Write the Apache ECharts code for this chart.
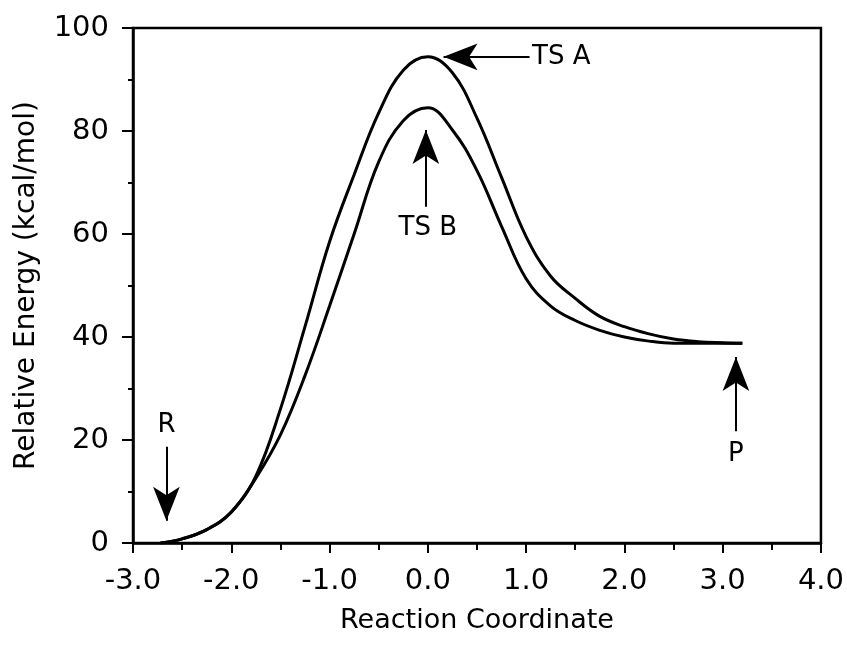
<!DOCTYPE html>
<html>
<head>
<meta charset="utf-8">
<script src="https://cdn.jsdelivr.net/npm/echarts@6/dist/echarts.min.js"></script>
<style>
html,body{margin:0;padding:0;background:#fff;}
#chart{width:847px;height:646px;}
</style>
</head>
<body>
<div id="chart"></div>
<script>
// Reaction coordinate samples
const coordA = [-2.72, -2.5, -2.25, -2.0, -1.75, -1.5, -1.25, -1.0, -0.75, -0.5, -0.25, 0.0, 0.25, 0.5, 0.75, 1.0, 1.25, 1.5, 1.75, 2.0, 2.25, 2.5, 2.75, 3.0, 3.2];
const energyA = [0, 0.8, 2.6, 6.0, 13.0, 26, 42, 58.5, 71.5, 83.5, 91.8, 94.4, 91.3, 82.5, 71, 59.5, 51.8, 47.5, 44, 42, 40.6, 39.6, 39.1, 38.9, 38.8];
const coordB = [-2.72, -2.5, -2.25, -2.0, -1.75, -1.5, -1.25, -1.0, -0.75, -0.5, -0.25, 0.0, 0.25, 0.5, 0.75, 1.0, 1.25, 1.5, 1.75, 2.0, 2.25, 2.5, 2.75, 3.0, 3.2];
const energyB = [0, 0.8, 2.6, 6.0, 12.6, 21, 32.5, 46, 60, 74, 82, 84.5, 80.2, 72.3, 61.5, 51.3, 46, 43.2, 41.3, 40, 39.2, 38.8, 38.8, 38.8, 38.8];

// Annotation arrows: [from, to] in data units
const arrowFrom = [[1.035, 94.4], [-0.02, 65.3], [-2.66, 18.7], [3.135, 21.7]];
const arrowTo   = [[0.16, 94.4], [-0.02, 80.2], [-2.66, 4.3], [3.135, 36.1]];
// Annotation labels
const labelText = ['TS A', 'TS B', 'R', 'P'];
const labelPos  = [[1.06, 94.3], [0.0, 61.2], [-2.66, 22.9], [3.135, 17.2]];
const labelAlign = ['left', 'center', 'center', 'center'];

const xTicks = {min: -3, max: 4, interval: 1};
const yTicks = {min: 0, max: 100, interval: 20};

const FONT = 'DejaVu Sans';
const chart = echarts.init(document.getElementById('chart'), null, {renderer: 'canvas'});

const zip = (xs, ys) => xs.map((x, i) => [x, ys[i]]);

const option = {
  animation: false,
  backgroundColor: '#ffffff',
  grid: {left: 133, right: 25, top: 28, bottom: 103, show: true, borderColor: '#000', borderWidth: 2.5, backgroundColor: 'transparent'},
  xAxis: {
    type: 'value', min: xTicks.min, max: xTicks.max, interval: xTicks.interval,
    name: 'Reaction Coordinate', nameLocation: 'middle', nameGap: 64,
    nameTextStyle: {fontFamily: FONT, fontSize: 27, color: '#000'},
    axisLine: {onZero: false, lineStyle: {color: '#000', width: 2.5}},
    axisTick: {length: 10, lineStyle: {color: '#000', width: 2}},
    minorTick: {show: true, splitNumber: 2, length: 7, lineStyle: {color: '#000', width: 2}},
    splitLine: {show: false},
    axisLabel: {fontFamily: FONT, fontSize: 29, color: '#000', margin: 24, formatter: v => v.toFixed(1)}
  },
  yAxis: {
    type: 'value', min: yTicks.min, max: yTicks.max, interval: yTicks.interval,
    name: 'Relative Energy (kcal/mol)', nameLocation: 'middle', nameGap: 92,
    nameTextStyle: {fontFamily: FONT, fontSize: 28, color: '#000'},
    axisLine: {onZero: false, lineStyle: {color: '#000', width: 2.5}},
    axisTick: {length: 11, lineStyle: {color: '#000', width: 2}},
    minorTick: {show: true, splitNumber: 2, length: 5, lineStyle: {color: '#000', width: 2}},
    splitLine: {show: false},
    axisLabel: {fontFamily: FONT, fontSize: 29, color: '#000', margin: 24}
  },
  series: [
    {
      name: 'A', type: 'line', data: zip(coordA, energyA), smooth: 0.4, symbol: 'none',
      lineStyle: {color: '#000', width: 3}, z: 3
    },
    {
      name: 'B', type: 'line', data: zip(coordB, energyB), smooth: 0.4, symbol: 'none',
      lineStyle: {color: '#000', width: 3}, z: 3,
      markLine: {
        silent: true, animation: false,
        symbol: ['none', 'arrow'], symbolSize: [20, 34],
        lineStyle: {color: '#000', width: 2, type: 'solid', opacity: 1},
        itemStyle: {color: '#000', opacity: 1},
        label: {show: false},
        emphasis: {disabled: true},
        data: arrowFrom.map((f, i) => [{coord: f}, {coord: arrowTo[i]}])
      }
    },
    {
      name: 'labels', type: 'scatter', symbolSize: 0, silent: true, z: 5,
      itemStyle: {opacity: 1, color: '#000'},
      data: labelPos.map((p, i) => ({
        value: p, name: labelText[i],
        label: {show: true, position: 'inside', align: labelAlign[i], verticalAlign: 'middle',
          formatter: labelText[i], fontFamily: FONT, fontSize: 26, color: '#000', opacity: 1, textBorderWidth: 0}
      }))
    }
  ]
};
chart.setOption(option);
</script>
</body>
</html>
